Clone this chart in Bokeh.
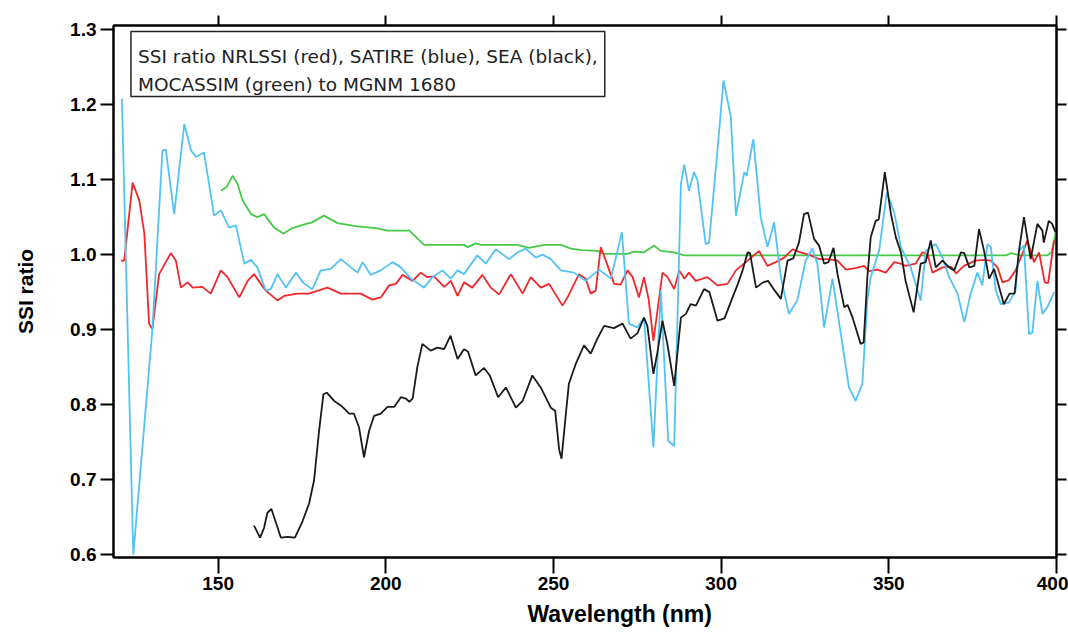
from bokeh.plotting import figure
from bokeh.models import (Range1d, LinearAxis, FixedTicker, PrintfTickFormatter, BoxAnnotation, Label,
                          Title, CustomJSTickFormatter)
from bokeh.embed import file_html
from bokeh.resources import INLINE

# ---------------- data ----------------
satire_wl = [121.3, 124.7, 130.4, 133.4, 134.4, 136.9, 139.9, 141.9, 143.4, 145.8, 148.8, 150.8, 153.3, 155.3,
             157.8, 159.8, 161.7, 164.2, 165.7, 167.7, 170.2, 173.2, 175.5, 178.1, 180.6, 183.6, 186.6, 189.6,
             191.6, 193.1, 195.5, 198.5, 202.0, 204.5, 207.5, 211.4, 213.9, 216.9, 219.4, 221.4, 223.3, 227.3,
             229.8, 232.8, 236.8, 239.3, 241.7, 244.7, 246.7, 249.2, 252.2, 256.1, 259.6, 263.6, 267.1, 269.1,
             270.4, 272.5, 275.0, 277.0, 279.8, 282.0, 284.2, 286.0, 288.0, 289.0, 290.4, 291.9, 292.9, 295.4,
             296.4, 298.9, 300.7, 302.9, 304.4, 306.9, 307.6, 309.6, 311.8, 313.8, 315.8, 317.8, 320.2, 322.7,
             325.2, 327.2, 328.7, 330.7, 333.2, 335.7, 338.1, 340.1, 342.1, 343.6, 344.6, 347.1, 349.4, 351.6,
             353.6, 356.5, 359.5, 361.0, 364.0, 366.0, 368.0, 370.5, 372.5, 374.4, 376.4, 377.9, 379.4, 380.4,
             381.9, 383.4, 385.8, 387.8, 388.8, 390.3, 391.8, 392.8, 394.3, 395.8, 397.3, 399.3]
satire_val = [1.208, 0.600, 0.900, 1.139, 1.140, 1.054, 1.174, 1.139, 1.130, 1.136, 1.052, 1.059, 1.036, 1.039,
              0.988, 0.993, 0.983, 0.952, 0.954, 0.974, 0.956, 0.976, 0.962, 0.954, 0.979, 0.981, 0.994, 0.983,
              0.976, 0.990, 0.973, 0.979, 0.990, 0.983, 0.968, 0.956, 0.970, 0.979, 0.968, 0.979, 0.974, 0.999,
              0.988, 1.007, 0.994, 1.003, 1.008, 0.996, 1.000, 0.994, 0.979, 0.976, 0.965, 0.980, 0.968, 1.005,
              1.030, 0.908, 0.903, 0.916, 0.743, 0.952, 0.752, 0.745, 1.094, 1.120, 1.085, 1.110, 1.100, 1.014,
              1.016, 1.139, 1.232, 1.183, 1.052, 1.110, 1.105, 1.154, 1.050, 1.010, 1.043, 0.970, 0.921, 0.939,
              0.992, 1.008, 0.988, 0.903, 0.968, 0.894, 0.823, 0.805, 0.828, 0.939, 0.970, 1.005, 1.083, 1.056,
              1.010, 0.983, 0.939, 1.005, 1.014, 0.996, 0.970, 0.948, 0.910, 0.948, 0.976, 0.959, 1.014, 1.010,
              0.952, 0.934, 0.936, 0.952, 1.005, 1.012, 0.894, 0.896, 0.965, 0.921, 0.930, 0.950]

nrlssi_wl = [121.0, 122.0, 124.5, 126.5, 128.0, 129.4, 130.4, 132.4, 135.9, 137.4, 138.9, 140.9, 142.4, 145.3,
             147.8, 150.8, 152.8, 156.3, 158.8, 160.7, 164.2, 167.7, 169.7, 173.7, 177.0, 182.6, 186.6, 192.5,
             196.0, 198.5, 201.0, 203.0, 205.0, 208.0, 210.4, 212.4, 214.4, 217.4, 219.4, 221.4, 223.3, 225.8,
             228.8, 231.3, 233.8, 237.3, 240.8, 243.2, 246.2, 248.7, 252.7, 254.2, 257.6, 259.6, 261.1, 262.6,
             264.1, 265.6, 268.1, 270.0, 272.1, 273.6, 275.5, 277.0, 278.4, 279.8, 281.0, 282.5, 284.0, 286.0,
             287.5, 289.0, 290.4, 292.4, 295.9, 298.9, 301.9, 304.4, 307.9, 311.3, 313.8, 316.3, 318.8, 321.3,
             323.7, 326.7, 329.2, 331.7, 334.7, 337.2, 340.0, 342.6, 344.1, 346.5, 349.1, 351.6, 353.5, 355.0,
             358.0, 360.0, 361.5, 363.0, 366.0, 368.5, 370.1, 372.4, 375.8, 378.5, 380.4, 382.4, 383.9, 385.8,
             387.8, 389.8, 391.3, 393.3, 394.8, 396.5, 397.5, 399.3]
nrlssi_val = [0.992, 0.992, 1.096, 1.072, 1.028, 0.908, 0.901, 0.974, 1.002, 0.992, 0.956, 0.963, 0.956, 0.957,
              0.948, 0.979, 0.970, 0.943, 0.965, 0.974, 0.952, 0.939, 0.945, 0.948, 0.948, 0.956, 0.948, 0.948,
              0.940, 0.943, 0.959, 0.961, 0.973, 0.965, 0.976, 0.970, 0.971, 0.957, 0.965, 0.945, 0.963, 0.956,
              0.973, 0.956, 0.947, 0.974, 0.948, 0.970, 0.956, 0.961, 0.932, 0.943, 0.974, 0.968, 0.948, 0.952,
              1.010, 0.992, 0.961, 0.960, 0.979, 0.970, 0.943, 0.970, 0.940, 0.885, 0.925, 0.976, 0.970, 0.954,
              0.979, 0.968, 0.976, 0.965, 0.970, 0.959, 0.961, 0.979, 0.992, 1.005, 0.985, 0.990, 0.996, 1.007,
              1.003, 0.999, 0.994, 0.994, 0.992, 0.980, 0.982, 0.985, 0.978, 0.980, 0.976, 0.990, 0.988, 0.985,
              0.988, 1.003, 1.001, 0.976, 0.983, 0.984, 0.975, 0.985, 0.992, 0.993, 0.992, 0.983, 0.963, 0.966,
              0.979, 1.001, 1.019, 0.990, 1.003, 0.963, 0.962, 1.019]

mocassim_wl = [150.8, 152.5, 154.3, 155.8, 157.3, 159.8, 161.7, 163.7, 166.7, 169.5, 172.0, 174.7, 178.0, 181.6,
               185.6, 191.0, 197.5, 200.5, 207.0, 211.4, 223.3, 224.4, 226.8, 228.5, 239.3, 242.7, 247.2, 252.2,
               255.2, 258.5, 263.1, 265.1, 272.1, 274.0, 277.0, 280.0, 282.0, 286.0, 289.0, 385.0, 386.5, 389.0,
               397.3, 398.5, 399.8]
mocassim_val = [1.085, 1.090, 1.105, 1.094, 1.072, 1.054, 1.050, 1.054, 1.036, 1.028, 1.035, 1.039, 1.043, 1.052,
                1.042, 1.038, 1.035, 1.032, 1.032, 1.013, 1.013, 1.010, 1.015, 1.013, 1.013, 1.009, 1.013, 1.013,
                1.008, 1.006, 1.005, 1.001, 1.001, 1.004, 1.003, 1.012, 1.005, 1.003, 0.999, 0.999, 1.002, 0.999,
                0.999, 1.003, 1.030]

sea_wl = [160.7, 162.5, 163.7, 164.7, 165.9, 166.7, 168.7, 170.7, 172.9, 175.2, 177.1, 178.6, 180.1, 181.4,
          182.4, 184.6, 186.6, 189.1, 190.5, 192.0, 193.5, 195.0, 196.5, 198.5, 200.5, 202.5, 204.5, 206.0,
          207.0, 208.0, 209.4, 210.9, 213.4, 215.4, 217.4, 219.3, 221.4, 223.3, 224.5, 226.8, 229.3, 231.0,
          233.5, 235.8, 238.8, 240.8, 243.7, 246.2, 249.2, 250.5, 251.7, 252.4, 253.7, 254.6, 256.6, 259.1,
          261.1, 263.1, 265.1, 268.0, 270.6, 273.0, 275.0, 277.0, 278.0, 279.8, 281.0, 282.5, 284.0, 286.0,
          288.0, 289.5, 290.9, 292.5, 294.9, 296.5, 298.9, 301.0, 303.4, 305.0, 306.4, 307.9, 308.6, 310.4,
          312.5, 314.0, 316.0, 317.8, 319.8, 321.5, 323.2, 324.7, 325.9, 327.7, 329.2, 330.7, 332.0, 333.5,
          334.7, 336.7, 337.7, 339.2, 341.6, 342.5, 343.6, 344.6, 346.1, 347.0, 348.8, 350.6, 352.1, 353.6,
          355.0, 357.4, 359.5, 361.0, 362.5, 364.0, 366.0, 368.0, 369.5, 371.5, 372.5, 374.0, 375.5, 376.9,
          378.4, 379.9, 381.4, 384.3, 386.0, 387.5, 388.8, 390.3, 392.3, 394.3, 395.8, 396.2, 397.7, 398.7,
          399.7]
sea_val = [0.639, 0.623, 0.636, 0.656, 0.661, 0.650, 0.623, 0.624, 0.623, 0.645, 0.668, 0.699, 0.765, 0.814,
           0.816, 0.805, 0.799, 0.788, 0.788, 0.770, 0.730, 0.765, 0.785, 0.788, 0.797, 0.797, 0.810, 0.808,
           0.804, 0.808, 0.850, 0.881, 0.872, 0.876, 0.874, 0.892, 0.861, 0.874, 0.871, 0.839, 0.849, 0.839,
           0.810, 0.823, 0.796, 0.805, 0.839, 0.823, 0.796, 0.792, 0.740, 0.728, 0.788, 0.828, 0.854, 0.879,
           0.868, 0.888, 0.905, 0.902, 0.908, 0.888, 0.895, 0.916, 0.905, 0.841, 0.870, 0.912, 0.880, 0.825,
           0.916, 0.921, 0.934, 0.932, 0.954, 0.950, 0.912, 0.915, 0.943, 0.961, 0.979, 1.003, 1.002, 0.956,
           0.963, 0.965, 0.952, 0.941, 0.992, 0.995, 1.016, 1.054, 1.056, 1.021, 1.012, 0.988, 0.990, 1.009,
           0.974, 0.930, 0.933, 0.916, 0.881, 0.883, 0.970, 1.023, 1.045, 1.047, 1.110, 1.055, 1.023, 1.003,
           0.965, 0.923, 0.988, 0.990, 1.019, 0.983, 0.992, 0.983, 0.979, 1.003, 1.002, 0.983, 0.985, 1.034,
           1.005, 0.968, 0.981, 0.934, 0.948, 0.948, 1.005, 1.050, 0.994, 1.041, 1.032, 1.016, 1.045, 1.041,
           1.030]

x_ticks = [150, 200, 250, 300, 350, 400]
y_ticks = [0.6, 0.7, 0.8, 0.9, 1.0, 1.1, 1.2, 1.3]
x_title = "Wavelength (nm)"
y_title = "SSI ratio"
legend_lines = ["SSI ratio NRLSSI (red), SATIRE (blue), SEA (black),",
                "MOCASSIM (green) to MGNM 1680"]

# ---------------- figure ----------------
TICK_FONT = "Liberation Sans"
p = figure(width=1068, height=632, output_backend="svg", toolbar_location=None,
           x_range=Range1d(118.8, 400.0), y_range=Range1d(0.5964, 1.3053),
           min_border_left=113, min_border_right=12, min_border_top=25, min_border_bottom=75,
           background_fill_color="white", border_fill_color="white")
p.grid.visible = False
p.outline_line_color = "black"
p.outline_line_width = 2

for ax in (p.xaxis[0], p.yaxis[0]):
    ax.axis_line_width = 2
    ax.major_tick_line_width = 2
    ax.minor_tick_line_color = None
    ax.major_tick_in = 0
    ax.major_label_text_font = TICK_FONT
    ax.major_label_text_font_style = "bold"
    ax.major_label_text_font_size = "19px"
    ax.major_label_text_color = "black"
    ax.axis_label_text_font = TICK_FONT
    ax.axis_label_text_font_style = "bold"
    ax.axis_label_text_font_size = "21px"
    ax.axis_label_text_color = "black"

p.xaxis[0].ticker = FixedTicker(ticks=x_ticks)
p.xaxis[0].major_tick_out = 16
p.xaxis[0].major_label_standoff = 3

p.yaxis[0].ticker = FixedTicker(ticks=y_ticks)
p.yaxis[0].formatter = PrintfTickFormatter(format="%.1f")
p.yaxis[0].major_tick_out = 13
p.yaxis[0].major_label_standoff = 4
p.yaxis[0].axis_label = y_title
p.yaxis[0].axis_label_standoff = 30

# x title placed like the reference (slightly right of centre)
p.add_layout(Title(text=x_title, align="left", offset=414, text_font=TICK_FONT,
                   text_font_style="bold", text_font_size="23px", text_color="black",
                   standoff=12), "below")

blank = CustomJSTickFormatter(code="return '';")
top_ax = LinearAxis(ticker=FixedTicker(ticks=x_ticks), formatter=blank,
                    major_label_standoff=0, major_tick_out=10, major_tick_in=0,
                    major_tick_line_width=2, axis_line_width=2, minor_tick_line_color=None)
right_ax = LinearAxis(ticker=FixedTicker(ticks=y_ticks), formatter=blank,
                      major_label_standoff=0, major_tick_out=10, major_tick_in=0,
                      major_tick_line_width=2, axis_line_width=2, minor_tick_line_color=None)
p.add_layout(top_ax, "above")
p.add_layout(right_ax, "right")

# ---------------- lines ----------------
LW = 1.8
p.line(mocassim_wl, mocassim_val, line_color="#46C946", line_width=LW)
p.line(nrlssi_wl, nrlssi_val, line_color="#F0282C", line_width=LW)
p.line(satire_wl, satire_val, line_color="#52C3F2", line_width=LW)
p.line(sea_wl, sea_val, line_color="#1A1A1A", line_width=LW)

# ---------------- annotation box ----------------
box = BoxAnnotation(left=124.0, right=265.3, bottom=1.2107, top=1.2973,
                    fill_color="white", fill_alpha=1.0, line_color="#222222", line_alpha=1.0,
                    line_width=1.5)
p.add_layout(box)
for txt, yy in zip(legend_lines, [1.2640, 1.2263]):
    p.add_layout(Label(x=126.1, y=yy, text=txt, text_font="DejaVu Sans", text_font_size="18.5px",
                       text_color="#222222", text_baseline="alphabetic", text_align="left"))

open("out.html", "w").write(file_html(p, INLINE))
